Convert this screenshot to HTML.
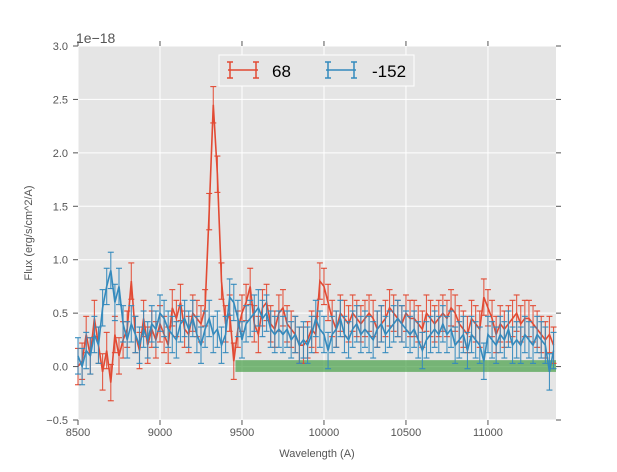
<!DOCTYPE html>
<html><head><meta charset="utf-8"><style>
body{margin:0;background:#fff;font-family:"Liberation Sans",sans-serif}
svg text{font-family:"Liberation Sans",sans-serif}
</style></head><body>
<svg id="chart" width="617" height="467" xmlns="http://www.w3.org/2000/svg">
<rect x="78" y="46" width="478" height="374" fill="#E5E5E5"/>
<g id="grid"></g><g id="band"></g><g id="series"></g><g id="axes"></g>
<text x="76" y="43" font-size="14" fill="#555">1e−18</text>
<text x="317" y="457" font-size="11" fill="#555" text-anchor="middle">Wavelength (A)</text>
<text transform="translate(32,233) rotate(-90)" font-size="11" fill="#555" text-anchor="middle">Flux (erg/s/cm^2/A)</text>
<g>
<rect x="219" y="55" width="195" height="31" fill="#E5E5E5" stroke="#fff" stroke-width="1"/>
<g stroke="#E24A33" stroke-width="1.5"><line x1="228" y1="70" x2="258" y2="70"/><line x1="230" y1="62" x2="230" y2="78"/><line x1="256" y1="62" x2="256" y2="78"/><line x1="227" y1="62" x2="233" y2="62"/><line x1="227" y1="78" x2="233" y2="78"/><line x1="253" y1="62" x2="259" y2="62"/><line x1="253" y1="78" x2="259" y2="78"/></g>
<text x="272" y="77" font-size="17" fill="#000">68</text>
<g stroke="#348ABD" stroke-width="1.5"><line x1="326" y1="70" x2="356" y2="70"/><line x1="328" y1="62" x2="328" y2="78"/><line x1="354" y1="62" x2="354" y2="78"/><line x1="325" y1="62" x2="331" y2="62"/><line x1="325" y1="78" x2="331" y2="78"/><line x1="351" y1="62" x2="357" y2="62"/><line x1="351" y1="78" x2="357" y2="78"/></g>
<text x="372" y="77" font-size="17" fill="#000">-152</text>
</g>
</svg>
<script>
const xStart = 8500, xStep = 25;
const redVals = [0.0,0.05,0.3,0.1,0.45,0.2,-0.05,0.15,-0.15,0.3,
0.1,0.25,0.35,0.8,0.3,0.15,0.45,0.2,0.35,0.25,
0.4,0.3,0.2,0.55,0.45,0.6,0.35,0.3,0.5,0.45,
0.4,0.55,1.45,2.45,1.8,0.8,0.4,0.5,0.05,0.35,
0.5,0.6,0.75,0.4,0.3,0.55,0.6,0.4,0.35,0.5,
0.55,0.4,0.35,0.3,0.2,0.2,0.25,0.35,0.3,0.8,
0.75,0.6,0.45,0.35,0.5,0.45,0.4,0.5,0.45,0.4,
0.45,0.5,0.45,0.35,0.4,0.45,0.55,0.5,0.45,0.4,
0.5,0.45,0.45,0.4,0.35,0.5,0.45,0.4,0.45,0.5,
0.45,0.55,0.5,0.4,0.35,0.3,0.45,0.4,0.35,0.65,
0.55,0.45,0.3,0.4,0.35,0.4,0.45,0.5,0.4,0.45,
0.45,0.4,0.35,0.3,0.25,0.3,0.2];
const blueVals = [0.1,0.0,0.15,0.1,0.3,0.2,0.55,0.75,0.9,0.6,
0.75,0.4,0.25,0.4,0.3,0.2,0.35,0.25,0.4,0.35,
0.5,0.45,0.35,0.3,0.25,0.4,0.45,0.35,0.45,0.3,
0.2,0.35,0.45,0.3,0.35,0.2,0.3,0.65,0.6,0.45,
0.25,0.4,0.45,0.5,0.55,0.45,0.5,0.35,0.3,0.35,
0.3,0.35,0.25,0.3,0.2,0.25,0.2,0.3,0.45,0.35,
0.3,0.15,0.3,0.35,0.45,0.3,0.25,0.35,0.4,0.3,
0.35,0.3,0.25,0.35,0.4,0.3,0.35,0.4,0.45,0.4,
0.35,0.3,0.35,0.25,0.15,0.25,0.3,0.35,0.3,0.4,
0.3,0.35,0.2,0.25,0.3,0.15,0.3,0.25,0.2,0.05,
0.3,0.25,0.2,0.3,0.25,0.35,0.2,0.25,0.2,0.3,
0.25,0.2,0.3,0.25,0.2,-0.05,0.15];
const redErr = [0.17];
const blueErr = [0.17];
const bandRange = [9460, 11415, -0.05, 0.06];
const xTicks = [8500,9000,9500,10000,10500,11000];
const yTicks = [-0.5,0.0,0.5,1.0,1.5,2.0,2.5,3.0];
const yTickLabels = ["−0.5","0.0","0.5","1.0","1.5","2.0","2.5","3.0"];

const L=78,R=556,T=46,B=420, X0=8500,X1=11415,Y0=-0.5,Y1=3.0;
const xs=v=>L+(v-X0)/(X1-X0)*(R-L);
const ys=v=>B-(v-Y0)/(Y1-Y0)*(B-T);
const NS="http://www.w3.org/2000/svg";
function mk(tag,attrs,parent){const e=document.createElementNS(NS,tag);for(const k in attrs)e.setAttribute(k,attrs[k]);parent.appendChild(e);return e;}
const grid=document.getElementById('grid'),axes=document.getElementById('axes'),ser=document.getElementById('series'),band=document.getElementById('band');
xTicks.forEach(t=>{const x=xs(t);
 let g=mk('line',{x1:x,x2:x,y1:T,y2:B,stroke:'#fff','stroke-width':1},grid);
 
 
 mk('line',{x1:x,x2:x,y1:B,y2:B+5,stroke:'#555'},axes);
 mk('line',{x1:x,x2:x,y1:T,y2:T-5,stroke:'#555'},axes);
 let tx=mk('text',{x:x,y:B+16,'font-size':11,fill:'#555','text-anchor':'middle'},axes);
 tx.textContent=t;
 
 
});
yTicks.forEach((t,i)=>{const y=ys(t);
 let g=mk('line',{x1:L,x2:R,y1:y,y2:y,stroke:'#fff','stroke-width':1},grid);
 
 
 mk('line',{x1:L-5,x2:L,y1:y,y2:y,stroke:'#555'},axes);
 mk('line',{x1:R,x2:R+5,y1:y,y2:y,stroke:'#555'},axes);
 let tx=mk('text',{x:L-10,y:y+4,'font-size':11,fill:'#555','text-anchor':'end'},axes);
 tx.textContent=yTickLabels[i];
 
 
});
const br=mk('rect',{x:xs(bandRange[0]),y:ys(bandRange[3]),width:xs(bandRange[1])-xs(bandRange[0]),height:ys(bandRange[2])-ys(bandRange[3]),fill:'#3a9a3a','fill-opacity':0.65},band);


function drawSeries(vals,errs,color,name){
 const g=mk('g',{stroke:color,fill:'none','stroke-width':1.1},ser);
 
 
 let pts=[];
 vals.forEach((v,i)=>{const e=errs[i%errs.length];const x=xs(xStart+i*xStep);
  mk('line',{x1:x,x2:x,y1:ys(v-e),y2:ys(v+e),'stroke-opacity':0.9},g);
  mk('line',{x1:x-3,x2:x+3,y1:ys(v-e),y2:ys(v-e)},g);
  mk('line',{x1:x-3,x2:x+3,y1:ys(v+e),y2:ys(v+e)},g);
  pts.push(x+','+ys(v));});
 const p=mk('polyline',{points:pts.join(' '),'stroke-width':1.6},g);
 
 
}
drawSeries(redVals,redErr,'#E24A33','series-68');
drawSeries(blueVals,blueErr,'#348ABD','series-minus152');
</script>
</body></html>
